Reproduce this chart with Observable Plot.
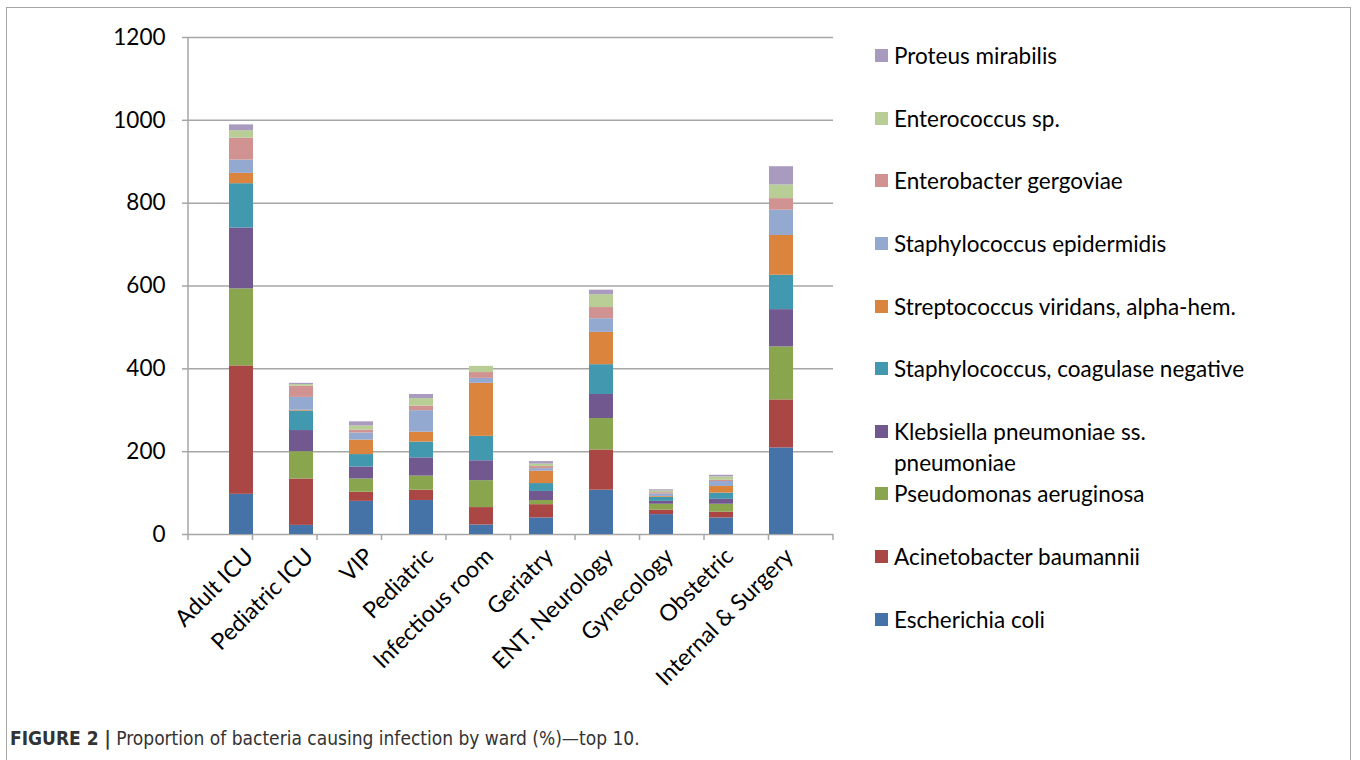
<!DOCTYPE html>
<html>
<head>
<meta charset="utf-8">
<script src="https://cdn.jsdelivr.net/npm/d3@7"></script>
<script src="https://cdn.jsdelivr.net/npm/@observablehq/plot@0.6"></script>
<style>
  html, body { margin: 0; padding: 0; background: #fff; }
  body { width: 1360px; height: 760px; position: relative; overflow: hidden; font-family: Lato, "Open Sans", sans-serif; }
  #frame { position: absolute; left: 6px; top: 7px; width: 1345px; height: 820px; border: 1.5px solid #a6a6a6; box-sizing: border-box; }
  #chart { position: absolute; left: 0; top: 0; }
  #legend { position: absolute; left: 0; top: 0; width: 1360px; height: 700px; }
  .item { position: absolute; left: 875px; font-family: Lato, sans-serif; font-size: 22.5px; line-height: 31.5px; color: #000; white-space: pre-line; }
  .sw { position: absolute; left: 0; top: 9px; width: 13px; height: 13px; }
  .lbl { position: absolute; left: 19px; top: 0; width: 460px; }
  #caption { position: absolute; left: 10px; top: 727px; font-family: "Liberation Sans Narrow", "DejaVu Sans Condensed", sans-serif; font-size: 19px; color: #333; white-space: nowrap; }
  #caption b { font-weight: bold; }
</style>
</head>
<body>
<div id="frame"></div>
<div id="chart"></div>
<div id="legend"></div>
<div id="caption"><b>FIGURE 2 |</b> Proportion of bacteria causing infection by ward (%)—top 10.</div>
<script>
const wards = ["Adult ICU", "Pediatric ICU", "VIP", "Pediatric", "Infectious room", "Geriatry", "ENT. Neurology", "Gynecology", "Obstetric", "Internal & Surgery"];

const species = [
  "Escherichia coli",
  "Acinetobacter baumannii",
  "Pseudomonas aeruginosa",
  "Klebsiella pneumoniae ss. pneumoniae",
  "Staphylococcus, coagulase negative",
  "Streptococcus viridans, alpha-hem.",
  "Staphylococcus epidermidis",
  "Enterobacter gergoviae",
  "Enterococcus sp.",
  "Proteus mirabilis"
];

const colors = ["#4572A7", "#AA4643", "#89A54E", "#71588F", "#4198AF", "#DB843D", "#93A9CF", "#D19392", "#B9CD96", "#A99BBD"];

const escherichiaColi        = [97, 22, 80, 82, 23, 40, 107, 48, 40, 209];
const acinetobacterBaumannii = [310, 112, 22, 25, 42, 32, 97, 11, 14, 116];
const pseudomonasAeruginosa  = [186, 66, 32, 34, 65, 10, 76, 14, 19, 128];
const klebsiellaPneumoniae   = [147, 51, 29, 44, 48, 22, 58, 7, 12, 90];
const staphCoagNegative      = [107, 47, 30, 38, 59, 19, 72, 10, 15, 83];
const streptococcusViridans  = [25, 2, 35, 24, 128, 30, 78, 2, 16, 96];
const staphEpidermidis       = [32, 31, 17, 52, 12, 6, 33, 6, 12, 61];
const enterobacterGergoviae  = [53, 27, 7, 11, 14, 5, 27, 3, 3, 28];
const enterococcusSp         = [18, 4, 10, 18, 15, 6, 31, 4, 8, 33];
const proteusMirabilis       = [14, 3, 10, 10, 0, 6, 11, 3, 4, 44];

const yTicks = [0, 200, 400, 600, 800, 1000, 1200];

const series = [escherichiaColi, acinetobacterBaumannii, pseudomonasAeruginosa, klebsiellaPneumoniae,
  staphCoagNegative, streptococcusViridans, staphEpidermidis, enterobacterGergoviae, enterococcusSp, proteusMirabilis];

const data = [];
series.forEach((vals, si) => vals.forEach((v, wi) => data.push({ward: wards[wi], species: species[si], value: v})));

const W = 860, H = 700, mL = 188, mR = 27, mT = 37, mB = 166;

const plot = Plot.plot({
  width: W, height: H,
  marginLeft: mL, marginRight: mR, marginTop: mT, marginBottom: mB,
  style: {fontFamily: "Lato, sans-serif", fontSize: "22.5px", color: "#000", background: "transparent"},
  x: {domain: wards, padding: 0.6, label: null},
  y: {domain: [0, 1200], label: null},
  color: {domain: species, range: colors},
  marks: [
    Plot.gridY(yTicks, {stroke: "#a6a6a6", strokeOpacity: 1, strokeWidth: 1.5}),
    Plot.barY(data, {x: "ward", y: "value", fill: "species", order: species, inset: 0}),
    Plot.axisY(yTicks, {tickSize: 6, tickPadding: 17, stroke: "#a6a6a6", strokeWidth: 1.5, fontSize: 22.5, tickFormat: d => String(d), label: null}),
    Plot.axisX({tickSize: 0, tickPadding: 18, tickRotate: -45, fontSize: 23, dx: 8, label: null})
  ]
});
document.getElementById("chart").appendChild(plot);

// y axis line and category boundary ticks (Excel style)
const svg = d3.select(plot);
const y0 = H - mB;
svg.append("line").attr("x1", mL).attr("x2", mL).attr("y1", mT).attr("y2", y0)
  .attr("stroke", "#a6a6a6").attr("stroke-width", 1.5);
const step = (W - mL - mR) / wards.length;
for (let i = 0; i <= wards.length; i++) {
  const x = mL + i * step;
  svg.append("line").attr("x1", x).attr("x2", x).attr("y1", y0).attr("y2", y0 + 6)
    .attr("stroke", "#a6a6a6").attr("stroke-width", 1.5);
}

// legend (reverse order)
const legend = document.getElementById("legend");
const order = species.map((s, i) => i).reverse();
order.forEach((si, k) => {
  const div = document.createElement("div");
  div.className = "item";
  div.style.top = (56 + k * 62.6 - 15.75) + "px";
  const sw = document.createElement("div");
  sw.className = "sw";
  sw.style.background = colors[si];
  const lbl = document.createElement("div");
  lbl.className = "lbl";
  lbl.textContent = species[si].replace(" ss. ", " ss.\n");
  div.appendChild(sw); div.appendChild(lbl);
  legend.appendChild(div);
});
</script>
</body>
</html>
